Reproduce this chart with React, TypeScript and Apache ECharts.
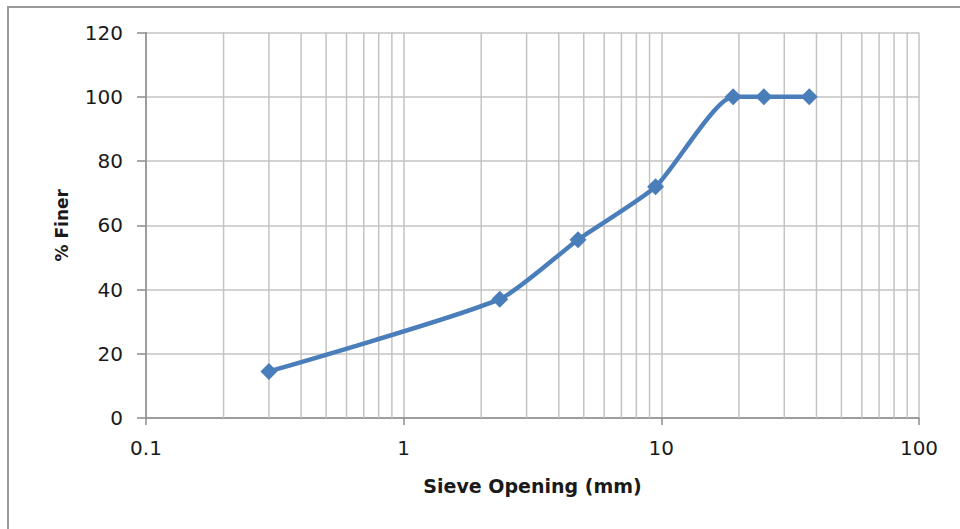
import React, { useEffect, useRef } from "react";
import * as echarts from "echarts";

// Data
const sieveOpening = [0.3, 2.36, 4.75, 9.5, 19, 25, 37.5];
const percentFiner = [14.5, 37, 55.5, 72, 100, 100, 100];

// Axis ticks
const xMajorTicks = [0.1, 1, 10, 100];
const xMinorGrid = [
  0.2, 0.3, 0.4, 0.5, 0.6, 0.7, 0.8, 0.9,
  2, 3, 4, 5, 6, 7, 8, 9,
  20, 30, 40, 50, 60, 70, 80, 90,
];
const yTicks = [0, 20, 40, 60, 80, 100, 120];

const xTitle = "Sieve Opening (mm)";
const yTitle = "% Finer";

export default function App() {
  const ref = useRef<HTMLDivElement>(null);

  useEffect(() => {
    if (!ref.current) return;
    const chart = echarts.init(ref.current, undefined, { renderer: "svg" });
    const gridColor = "#c3c3c3";
    const axisColor = "#8c8c8c";
    const labelFont = {
      fontFamily: "DejaVu Sans",
      fontSize: 20,
      color: "#1a1a1a",
    };
    chart.setOption({
      animation: false,
      backgroundColor: "#ffffff",
      graphic: [
        {
          type: "rect",
          shape: { x: 8, y: 7, width: 970, height: 540 },
          style: { fill: "none", stroke: "#9a9a9a", lineWidth: 2 },
          silent: true,
          z: -10,
        },
      ],
      grid: { left: 146, right: 41, top: 32.5, bottom: 111, containLabel: false },
      xAxis: {
        type: "log",
        logBase: 10,
        min: xMajorTicks[0],
        max: xMajorTicks[xMajorTicks.length - 1],
        name: xTitle,
        nameLocation: "middle",
        nameGap: 58,
        nameTextStyle: {
          fontFamily: "DejaVu Sans",
          fontWeight: "bold",
          fontSize: 19,
          color: "#1a1a1a",
        },
        axisLine: { show: true, onZero: false, lineStyle: { color: axisColor, width: 1.5 } },
        axisTick: { show: true, inside: false, length: 7, lineStyle: { color: axisColor, width: 1.5 } },
        axisLabel: {
          ...labelFont,
          margin: 20,
          formatter: (v: number) => String(v),
        },
        splitLine: { show: true, lineStyle: { color: gridColor, width: 1.5 } },
        minorTick: { show: false },
      },
      yAxis: {
        type: "value",
        min: yTicks[0],
        max: yTicks[yTicks.length - 1],
        interval: yTicks[1] - yTicks[0],
        name: yTitle,
        nameLocation: "middle",
        nameGap: 76,
        nameRotate: 90,
        nameTextStyle: {
          fontFamily: "DejaVu Sans",
          fontWeight: "bold",
          fontSize: 17,
          color: "#1a1a1a",
        },
        axisLine: { show: true, lineStyle: { color: axisColor, width: 1.5 } },
        axisTick: { show: true, inside: false, length: 9, lineStyle: { color: axisColor, width: 1.5 } },
        axisLabel: { ...labelFont, margin: 23 },
        splitLine: { show: true, lineStyle: { color: gridColor, width: 1.5 } },
      },
      series: [
        {
          type: "custom",
          silent: true,
          z: 1,
          encode: { x: 0, y: 1 },
          data: xMinorGrid.map((v) => [v, yTicks[0]]),
          renderItem: (_params: any, api: any) => {
            const bottom = api.coord([api.value(0), yTicks[0]]);
            const top = api.coord([api.value(0), yTicks[yTicks.length - 1]]);
            return {
              type: "line",
              shape: { x1: bottom[0], y1: bottom[1], x2: top[0], y2: top[1] },
              style: { stroke: gridColor, lineWidth: 1.5 },
            };
          },
        },
        {
          type: "line",
          z: 5,
          data: sieveOpening.map((x, i) => [x, percentFiner[i]]),
          smooth: 0.2,
          symbol: "diamond",
          symbolSize: 17,
          lineStyle: { color: "#4a7ebb", width: 4.5 },
          itemStyle: { color: "#4a7ebb" },
        },
      ],
    });
    return () => chart.dispose();
  }, []);

  return (
    <div
      ref={ref}
      style={{ position: "absolute", left: 0, top: 0, width: 960, height: 529 }}
    />
  );
}
